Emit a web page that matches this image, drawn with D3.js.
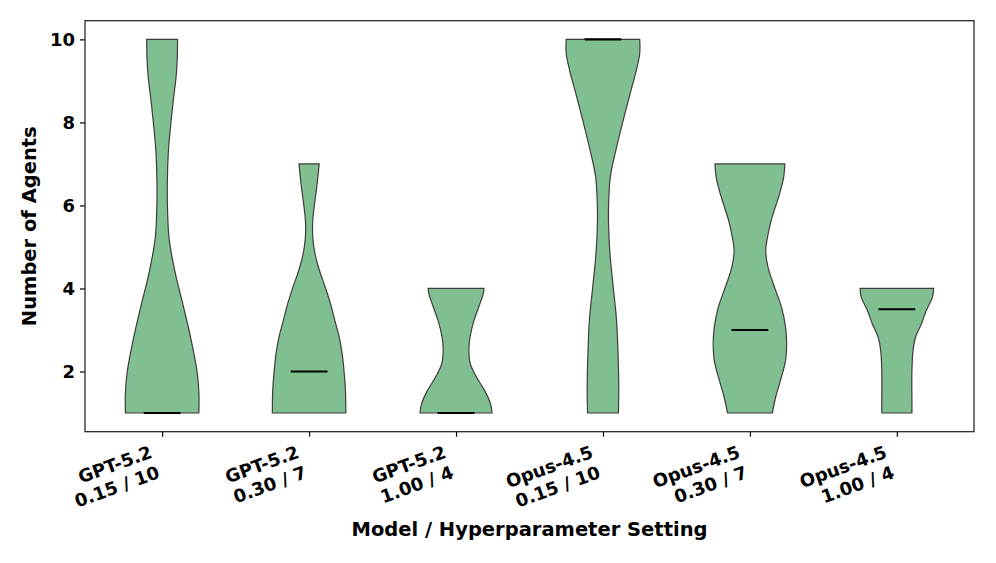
<!DOCTYPE html>
<html>
<head>
<meta charset="utf-8">
<script src="https://cdn.jsdelivr.net/npm/d3@7"></script>
<style>
  body { margin: 0; background: #fff; }
  text { font-family: "DejaVu Sans", sans-serif; font-weight: bold; fill: #000; }
</style>
</head>
<body>
<div id="viz"></div>
<script>
// ── DATA ────────────────────────────────────────────────────────────────────
const models   = ["GPT-5.2", "GPT-5.2", "GPT-5.2", "Opus-4.5", "Opus-4.5", "Opus-4.5"];
const settings = ["0.15 / 10", "0.30 / 7", "1.00 / 4", "0.15 / 10", "0.30 / 7", "1.00 / 4"];
const medians  = [1, 2, 1, 10, 3, 3.5];
const yTicks   = [2, 4, 6, 8, 10];

// density profile of each violin:
// levels = number of agents, widths = relative width (1 = widest violin part)
const densityLevels = [
  [1, 1.5, 2.0, 2.8, 3.6, 4.4, 5.2, 5.8, 6.5, 7.3, 8.0, 8.5, 9.1, 9.5, 10],
  [1, 1.54, 2.02, 2.43, 2.83, 3.23, 3.64, 4.03, 4.44, 4.84, 5.24, 5.64, 6.05, 6.45, 7],
  [1, 1.22, 1.54, 1.86, 2.18, 2.55, 2.83, 3.23, 3.63, 3.87, 4],
  [1, 1.62, 2.43, 3.23, 4.03, 4.84, 5.64, 6.2, 6.69, 7.25, 8.05, 8.86, 9.26, 9.66, 10],
  [1, 1.38, 1.78, 2.26, 2.67, 3.07, 3.55, 4.03, 4.52, 4.92, 5.24, 5.64, 6.29, 6.69, 7],
  [1, 1.22, 2.02, 2.51, 2.83, 3.15, 3.47, 3.79, 4]
];
const densityWidths = [
  [1.0, 1.0, 0.95, 0.78, 0.57, 0.35, 0.19, 0.15, 0.14, 0.17, 0.24, 0.30, 0.38, 0.41, 0.42],
  [1.0, 0.99, 0.95, 0.90, 0.82, 0.70, 0.58, 0.44, 0.28, 0.16, 0.10, 0.10, 0.15, 0.21, 0.275],
  [0.98, 0.94, 0.78, 0.56, 0.39, 0.35, 0.38, 0.49, 0.65, 0.74, 0.76],
  [0.42, 0.43, 0.41, 0.37, 0.28, 0.19, 0.15, 0.16, 0.20, 0.33, 0.55, 0.79, 0.91, 1.0, 1.0],
  [0.61, 0.70, 0.83, 0.97, 1.0, 0.97, 0.86, 0.67, 0.49, 0.43, 0.48, 0.58, 0.81, 0.92, 0.95],
  [0.41, 0.41, 0.41, 0.44, 0.51, 0.67, 0.80, 0.97, 1.0]
];

// ── SETTINGS ────────────────────────────────────────────────────────────────
const width = 996, height = 563;
const plotLeft = 85, plotRight = 974, plotTop = 20.7, plotBottom = 431.7;
const violinWidth = 0.5;

const svg = d3.select("#viz").append("svg")
    .attr("width", width)
    .attr("height", height)
    .attr("viewBox", [0, 0, width, height]);

const x = d3.scaleLinear().domain([0.475, 6.525]).range([plotLeft, plotRight]);
const y = d3.scaleLinear().domain([0.55, 10.45]).range([plotBottom, plotTop]);

// ── VIOLINS ─────────────────────────────────────────────────────────────────
const violins = models.map((m, i) => ({
  pos: i + 1,
  median: medians[i],
  profile: densityLevels[i].map((v, j) => [v, densityWidths[i][j]])
}));

const area = d3.area()
    .curve(d3.curveCatmullRom)
    .y(d => y(d[0]));

svg.append("g").selectAll("path")
  .data(violins)
  .join("path")
    .attr("d", d => area
        .x0(p => x(d.pos - violinWidth / 2 * p[1]))
        .x1(p => x(d.pos + violinWidth / 2 * p[1]))(d.profile))
    .attr("fill", "#80bf8f")
    .attr("stroke", "#3d3d3d")
    .attr("stroke-width", 1.2);

svg.append("g").selectAll("line")
  .data(violins)
  .join("line")
    .attr("x1", d => x(d.pos - violinWidth / 4))
    .attr("x2", d => x(d.pos + violinWidth / 4))
    .attr("y1", d => y(d.median))
    .attr("y2", d => y(d.median))
    .attr("stroke", "#000")
    .attr("stroke-width", 2.2);

// ── AXES ────────────────────────────────────────────────────────────────────
const yAxis = svg.append("g")
    .attr("transform", `translate(${plotLeft},0)`)
    .call(d3.axisLeft(y).tickValues(yTicks).tickSize(5).tickPadding(5));
yAxis.select(".domain").remove();
yAxis.selectAll(".tick line").attr("stroke", "#000").attr("stroke-width", 1.2);
yAxis.selectAll(".tick text")
    .attr("font-size", 18)
    .attr("font-family", "DejaVu Sans")
    .attr("font-weight", "bold");

const xAxis = svg.append("g")
    .attr("transform", `translate(0,${plotBottom})`)
    .call(d3.axisBottom(x).tickValues(d3.range(1, 7)).tickSize(5).tickFormat(""));
xAxis.select(".domain").remove();
xAxis.selectAll(".tick line").attr("stroke", "#000").attr("stroke-width", 1.2);

// rotated two-line tick labels, right-aligned, top-right corner under the tick
const angle = -20 * Math.PI / 180;
models.forEach((m, i) => {
  const g = svg.append("g");
  const t = g.append("text")
      .attr("font-size", 18)
      .attr("text-anchor", "end");
  t.append("tspan").attr("x", 0).attr("dy", 0).text(m);
  t.append("tspan").attr("x", 0).attr("dy", "1.2em").text(settings[i]);
  const bb = t.node().getBBox();
  const corners = [[bb.x, bb.y], [bb.x + bb.width, bb.y],
                   [bb.x, bb.y + bb.height], [bb.x + bb.width, bb.y + bb.height]]
    .map(([px, py]) => [px * Math.cos(angle) - py * Math.sin(angle),
                        px * Math.sin(angle) + py * Math.cos(angle)]);
  const maxX = d3.max(corners, c => c[0]);
  const minY = d3.min(corners, c => c[1]);
  g.attr("transform",
    `translate(${x(i + 1) - maxX},${plotBottom + 9.5 - minY}) rotate(-20)`);
});

// frame
svg.append("rect")
    .attr("x", plotLeft).attr("y", plotTop)
    .attr("width", plotRight - plotLeft).attr("height", plotBottom - plotTop)
    .attr("fill", "none")
    .attr("stroke", "#222")
    .attr("stroke-width", 1.25);

// axis titles
svg.append("text")
    .attr("x", (plotLeft + plotRight) / 2)
    .attr("y", 536)
    .attr("text-anchor", "middle")
    .attr("font-size", 19.5)
    .text("Model / Hyperparameter Setting");

svg.append("text")
    .attr("transform", `translate(36,${(plotTop + plotBottom) / 2}) rotate(-90)`)
    .attr("text-anchor", "middle")
    .attr("font-size", 19.5)
    .text("Number of Agents");
</script>
</body>
</html>
